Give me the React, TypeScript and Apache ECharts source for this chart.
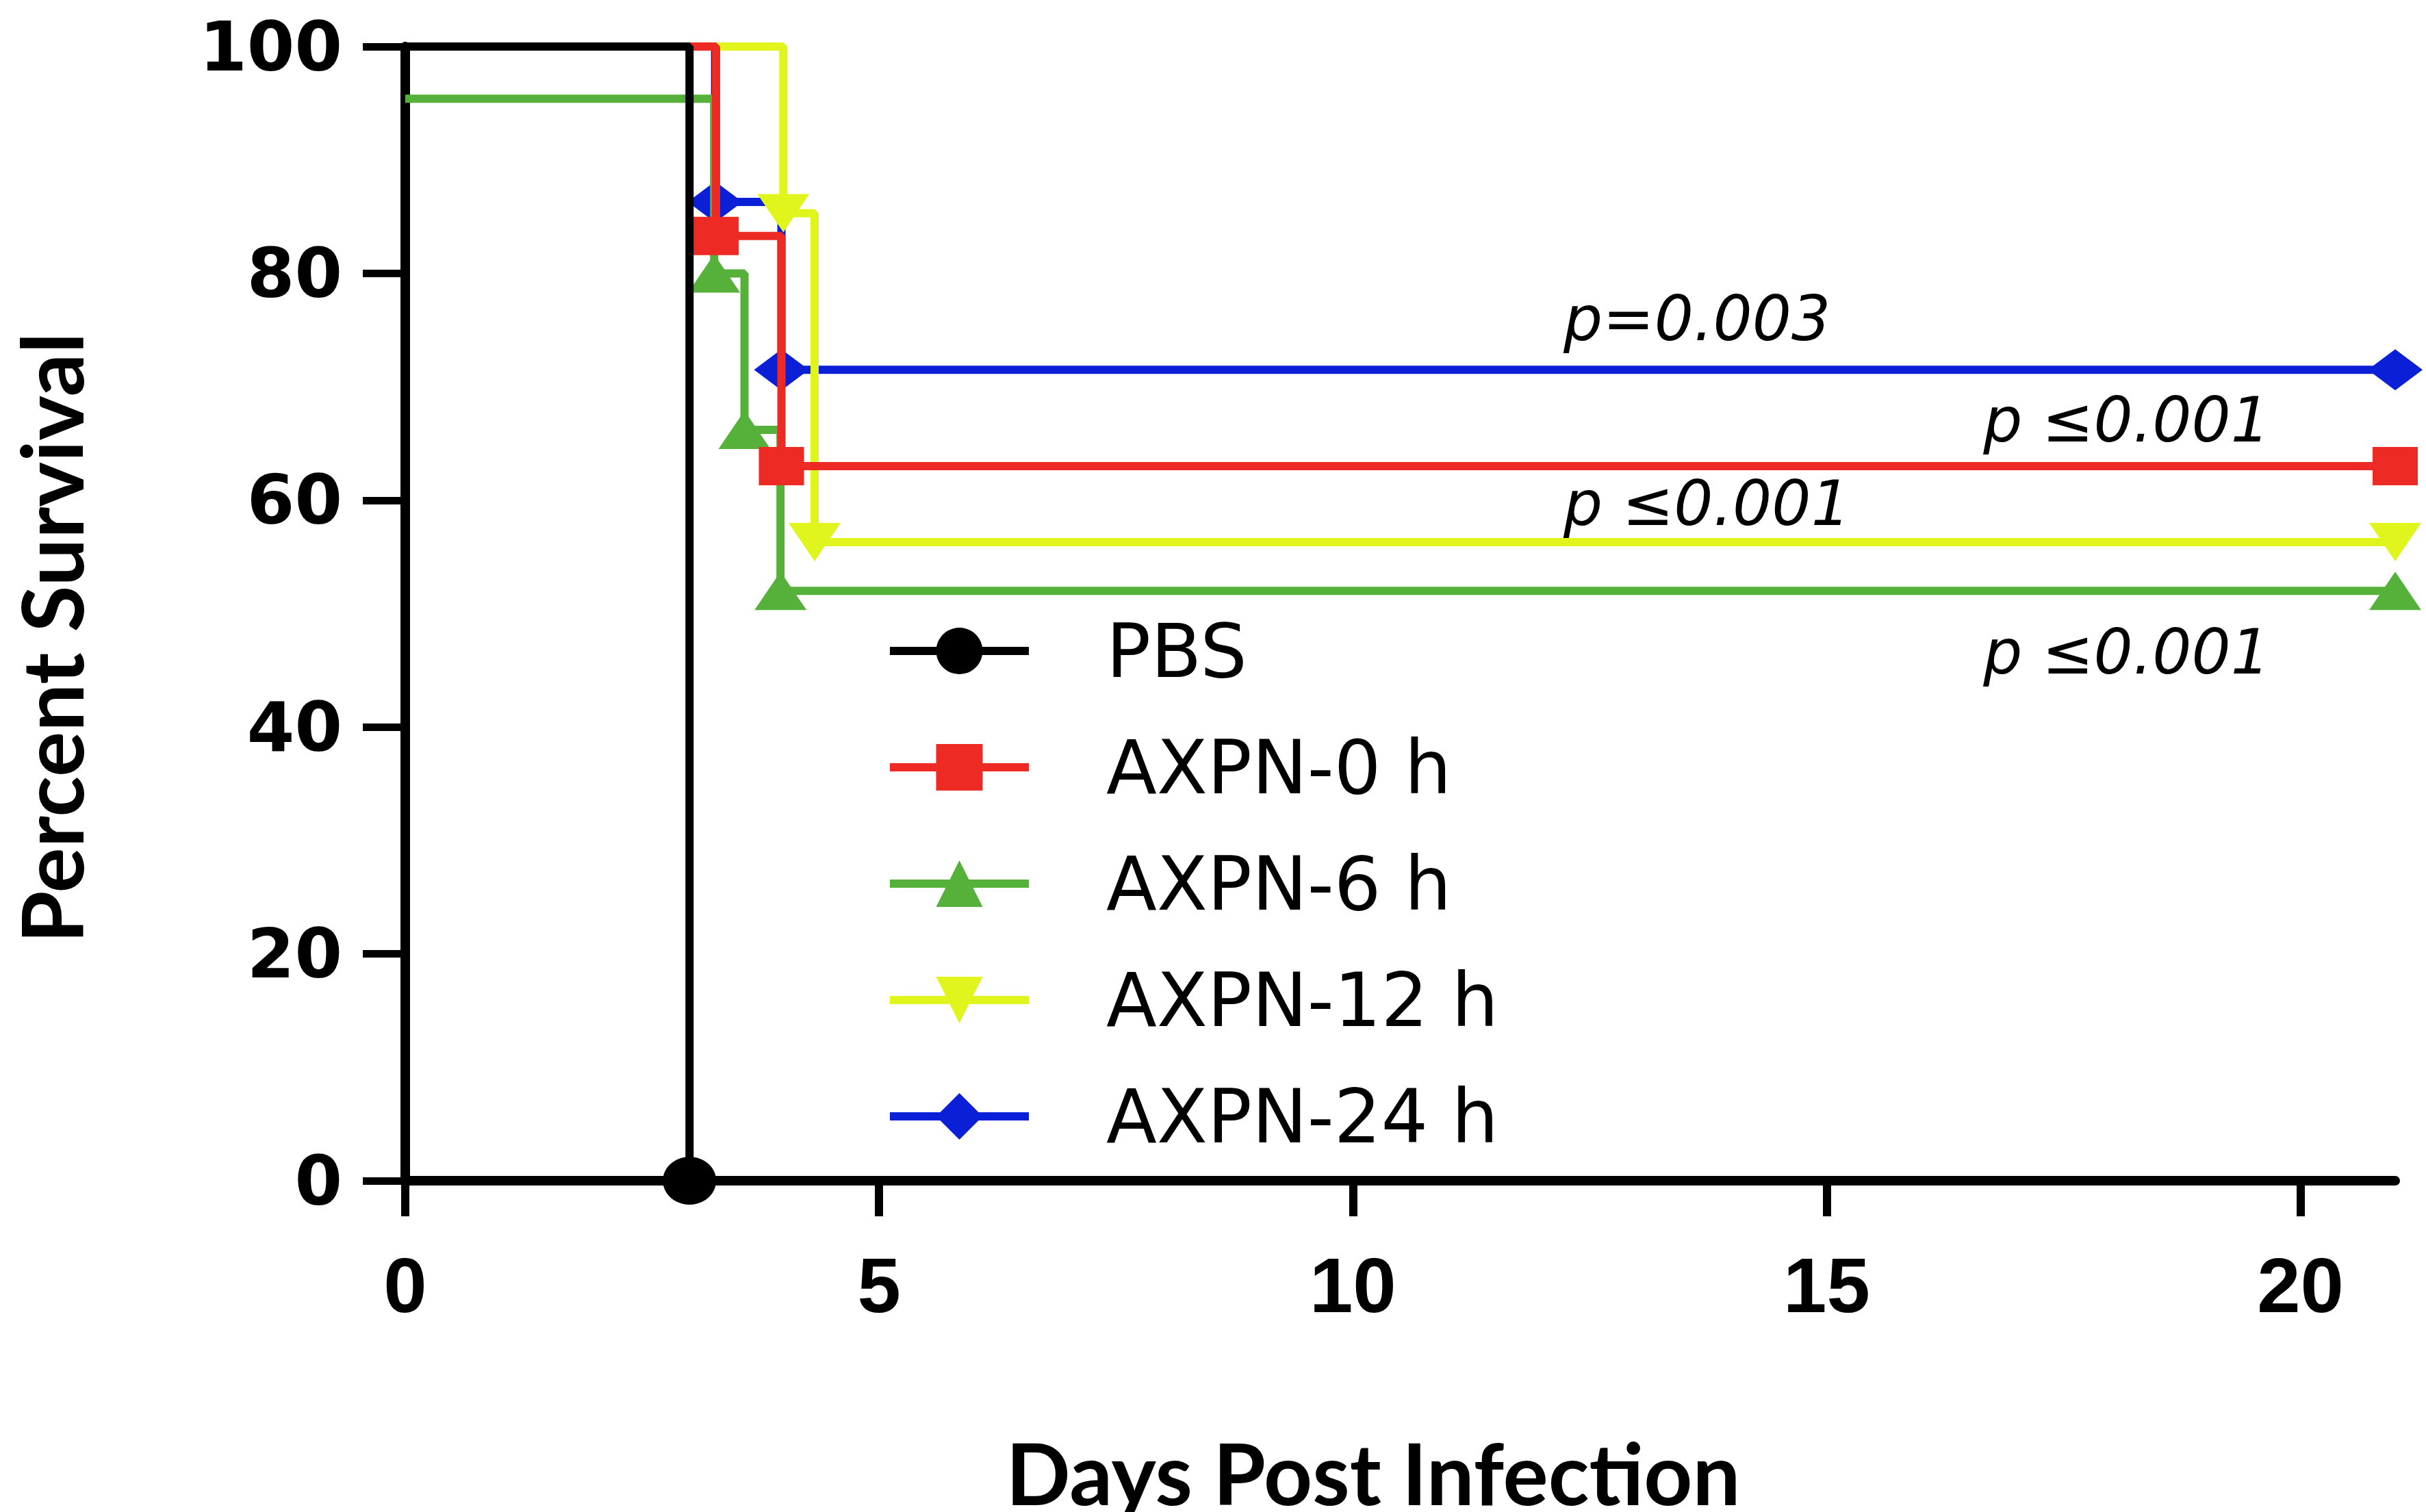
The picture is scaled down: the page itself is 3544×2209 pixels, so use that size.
import React, { useEffect, useRef } from "react";
import * as echarts from "echarts";

const seriesNames = ["PBS", "AXPN-0 h", "AXPN-6 h", "AXPN-12 h", "AXPN-24 h"];
const seriesColors = ["#000000", "#EE2A24", "#56B13A", "#E0F51C", "#0B1FD6"];

const pbsDays = [0, 3];
const pbsSurvival = [100, 0];
const axpn0Days = [0, 3.28, 3.97, 21];
const axpn0Survival = [100, 83.3, 63, 63];
const axpn6Days = [0, 3.26, 3.58, 3.96, 21];
const axpn6Survival = [95.4, 80, 66.2, 52, 52];
const axpn12Days = [0, 3.99, 4.32, 21];
const axpn12Survival = [100, 85.3, 56.3, 56.3];
const axpn24Days = [0, 3.27, 3.97, 21];
const axpn24Survival = [100, 86.3, 71.5, 71.5];

const xTicks = [0, 5, 10, 15, 20];

const pLabels = ["p=0.003", "p ≤0.001", "p ≤0.001", "p ≤0.001"];
const pLabelSeries = ["AXPN-24 h", "AXPN-0 h", "AXPN-12 h", "AXPN-6 h"];
const pLabelDays = [12.22, 16.65, 12.22, 16.65];
const pLabelPercent = [76.0, 67.1, 59.7, 46.6];

const xTitle = "Days Post Infection";
const yTitle = "Percent Survival";

export default function App() {
  const ref = useRef<HTMLDivElement>(null);
  useEffect(() => {
    if (!ref.current) return;
    const chart = echarts.init(ref.current, undefined, { renderer: "svg" });

    const daysList = [pbsDays, axpn0Days, axpn6Days, axpn12Days, axpn24Days];
    const survList = [pbsSurvival, axpn0Survival, axpn6Survival, axpn12Survival, axpn24Survival];
    const symbols = ["circle", "rect", "triangle", "triangle", "diamond"];
    const symbolRotates = [0, 0, 0, 180, 0];
    const symbolSizes: any[] = [[78, 70], [66, 56], [76, 56], [76, 56], [80, 60]];
    const zs = [7, 6, 5, 4, 3];

    const series = seriesNames.map((name, si) => {
      const days = daysList[si];
      const surv = survList[si];
      const data = days.map((d, i) => {
        const item: any = { value: [d, surv[i]] };
        if (si === 0 ? i !== days.length - 1 : i === 0) item.symbol = "none";
        return item;
      });
      const marks: any[] = [];
      pLabels.forEach((t, k) => {
        if (pLabelSeries[k] === name) {
          marks.push({
            coord: [pLabelDays[k], pLabelPercent[k]],
            label: { formatter: t },
          });
        }
      });
      const s: any = {
        name,
        type: "line",
        step: "end",
        data,
        z: zs[si],
        symbol: symbols[si],
        symbolRotate: symbolRotates[si],
        symbolSize: symbolSizes[si],
        showAllSymbol: true,
        color: seriesColors[si],
        lineStyle: { color: seriesColors[si], width: 12 },
        itemStyle: { color: seriesColors[si] },
        emphasis: { disabled: true },
        silent: true,
      };
      if (marks.length) {
        s.markPoint = {
          symbol: "circle",
          symbolSize: 1,
          itemStyle: { color: "rgba(0,0,0,0)" },
          label: {
            show: true,
            position: "right",
            distance: 0,
            color: "#000",
            fontFamily: "DejaVu Sans",
            fontStyle: "italic",
            fontSize: 90,
          },
          data: marks,
        };
      }
      return s;
    });

    chart.setOption({
      animation: false,
      backgroundColor: "#ffffff",
      grid: { left: 592, right: 45, top: 68, bottom: 484, containLabel: false },
      legend: {
        orient: "vertical",
        left: 1289,
        top: 892,
        itemWidth: 203,
        itemHeight: 85,
        itemGap: 62,
        data: seriesNames,
        selectedMode: false,
        lineStyle: { width: 12 },
        textStyle: {
          fontFamily: "DejaVu Sans",
          fontSize: 108,
          color: "#000",
          padding: [0, 0, 0, 108],
        },
      },
      xAxis: {
        type: "value",
        min: 0,
        max: 21,
        interval: 5,
        splitLine: { show: false },
        axisLine: { onZero: false, lineStyle: { color: "#000", width: 14 } },
        axisTick: {
          show: true,
          customValues: xTicks,
          length: 52,
          lineStyle: { color: "#000", width: 12 },
        },
        axisLabel: {
          customValues: xTicks,
          margin: 95,
          color: "#000",
          fontFamily: "Liberation Sans Narrow, Liberation Sans, sans-serif",
          fontWeight: "bold",
          fontSize: 114,
        },
      },
      yAxis: {
        type: "value",
        min: 0,
        max: 100,
        interval: 20,
        splitLine: { show: false },
        axisLine: { lineStyle: { color: "#000", width: 14 } },
        axisTick: { show: true, length: 62, lineStyle: { color: "#000", width: 11 } },
        axisLabel: {
          margin: 92,
          color: "#000",
          fontFamily: "DejaVu Sans",
          fontWeight: "bold",
          fontSize: 100,
        },
      },
      graphic: [
        {
          type: "text",
          x: 2006,
          y: 2151,
          style: {
            text: xTitle,
            fontFamily: "Lato",
            fontWeight: "bold",
            fontSize: 124,
            fill: "#000",
            align: "center",
            verticalAlign: "middle",
          },
        },
        {
          type: "text",
          x: 74,
          y: 932,
          rotation: Math.PI / 2,
          style: {
            text: yTitle,
            fontFamily: "Lato",
            fontWeight: "bold",
            fontSize: 124,
            fill: "#000",
            align: "center",
            verticalAlign: "middle",
          },
        },
      ],
      series,
    });
    return () => chart.dispose();
  }, []);
  return (
    <div
      ref={ref}
      style={{ position: "absolute", left: 0, top: 0, width: 3544, height: 2209, background: "#fff" }}
    />
  );
}
